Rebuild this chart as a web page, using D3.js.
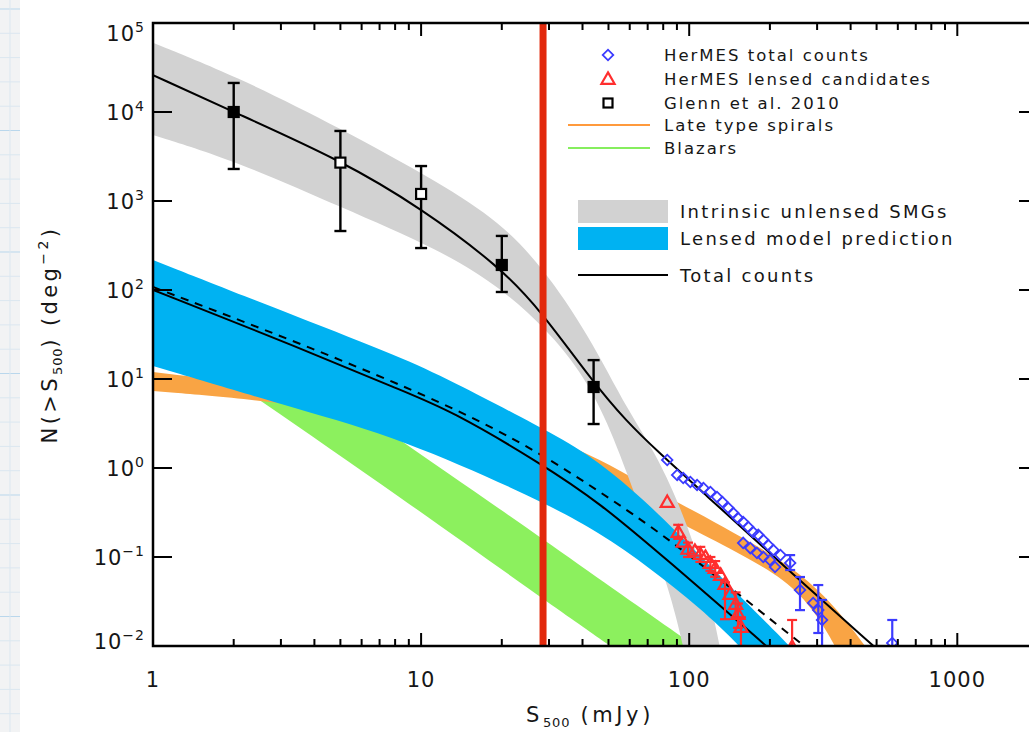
<!DOCTYPE html>
<html><head><meta charset="utf-8">
<script src="https://cdn.jsdelivr.net/npm/d3@7"></script>
<style>
body{margin:0;background:#fff}
svg{display:block}
text{font-family:"DejaVu Sans",sans-serif;fill:#161616}
</style>
</head><body>
<svg id="c" width="1029" height="732"></svg>
<script>
// ---------------- data ----------------
const xTicks = [1, 10, 100, 1000];
const xTickLabels = ["1", "10", "100", "1000"];
const yTickExps = [-2, -1, 0, 1, 2, 3, 4, 5];

// Total counts model (black solid line)
const totalCounts = [[1,26000],[2,10000],[5,2890],[10,834],[19.7,181],[27.8,59.6],[43.8,9.25],[57.7,3.46],[78,1.44],[110,0.566],[232,0.0733],[473,0.0108],[613,0.0054]];
// Intrinsic unlensed SMGs band (grey)
const unlensedUpper = [[1,60000],[2,26000],[5,6600],[11.8,1590],[19.7,581],[28.5,177],[41.6,33.7],[60.2,3.94],[76,1.40],[101,0.20],[120,0.033],[133,0.007]];
const unlensedLower = [[1,5520],[2,2890],[5,857],[11.8,281],[19.7,108],[29.5,35.6],[39.2,12.6],[49.4,3.46],[61.8,0.566],[74.7,0.12],[86.4,0.033],[97.5,0.007]];
// Lensed model prediction band (blue)
const lensedUpper = [[1,217],[3.54,48.4],[8.35,17.7],[12.8,9.75],[27.8,2.89],[41.6,1.48],[61.8,0.566],[87.1,0.212],[169,0.0274],[238,0.01],[283,0.0054]];
const lensedLower = [[1,14.0],[3.54,4.49],[8.35,2.17],[27.8,0.437],[46.5,0.186],[71.5,0.075],[110,0.0267],[155,0.01],[184,0.0054]];
// Lensed counts lines (solid and dashed black)
const lensedSolid = [[1,100],[3.54,22.3],[8.35,7.52],[12.8,4.49],[27.8,1.14],[46.5,0.404],[82.8,0.0925],[195,0.01],[240,0.0055]];
const lensedDashed = [[1,108],[3.54,25.3],[12.8,5.1],[27.8,1.48],[46.5,0.537],[82.8,0.168],[232,0.014],[271,0.01],[320,0.0058]];
// Late type spirals band (orange)
const spiralsUpper = [[1,12.0],[3.54,7.52],[12.8,4.26],[27.8,2.35],[41.6,1.48],[61.8,0.773],[82.8,0.472],[131,0.229],[232,0.0857],[336,0.0329],[454,0.01],[516,0.0057]];
const spiralsLower = [[1,7.33],[3.05,5.52],[8.35,3.46],[19.7,2.07],[41.6,1.0],[65.6,0.437],[87.1,0.261],[142,0.126],[232,0.0552],[295,0.0241],[351,0.01],[382,0.0057]];
// Blazars band (green)
const blazarsUpper = [[1,168],[8.35,2.07],[27.8,0.168],[101,0.0108],[131,0.0063]];
const blazarsLower = [[1,38.4],[2.44,6.12],[8.35,0.472],[27.8,0.0356],[49,0.0108],[60.2,0.007]];

// HerMES total counts (blue diamonds) and error bars [S, low, high]
const hermesTotal = [[82.8,1.23],[90.2,0.834],[95,0.773],[101,0.697],[107,0.644],[113,0.596],[120,0.537],[127,0.472],[133,0.415],[140,0.355],[146,0.312],[152,0.274],[159,0.247],[166,0.217],[173,0.191],[181,0.177],[189,0.155],[197,0.136],[206,0.12],[219,0.105],[238,0.0857],[259,0.0426],[290,0.0304],[303,0.0253],[313,0.0196],[572,0.0108],
  [159,0.144],[169,0.126],[179,0.111],[189,0.1],[200,0.0925],[209,0.0773]];
const hermesTotalErr = [[238,0.0714,0.105],[259,0.0253,0.0596],[303,0.014,0.0484],[313,0.0095,0.0329],[572,0.0095,0.0196]];
// HerMES lensed candidates (red triangles) and error bars
const hermesLensed = [[82.8,0.404],[91,0.186],[95,0.144],[99,0.12],[105,0.114],[110,0.105],[115,0.0975],[120,0.0833],[125,0.0733],[131,0.0612],[136,0.0484],[142,0.0374],[149,0.0289],[152,0.0223],[156,0.0159],[242,0.0095]];
const hermesLensedErr = [[91,0.16,0.23],[99,0.10,0.145],[110,0.088,0.13],[120,0.07,0.10],[125,0.06,0.09],[136,0.02,0.052],[149,0.021,0.04],[152,0.016,0.03],[156,0.01,0.021],[242,0.009,0.0196]];
// Glenn et al. 2010 [S, N, low, high]
const glenn = [[2,10000,2290,21200],[5,2700,460,6120],[10,1200,296,2470],[20,191,95,405],[44,8.13,3.12,16.3]];
const glennFilled = [true,false,false,true,true];
// vertical flux cut
const fluxCut = 28.5;

const legendSymbols = ["HerMES total counts","HerMES lensed candidates","Glenn et al. 2010","Late type spirals","Blazars"];
const legendBands = ["Intrinsic unlensed SMGs","Lensed model prediction","Total counts"];

// ---------------- drawing ----------------
const svg = d3.select("#c");
const L = 153, R = 1038, T = 23, B = 646;
const x = d3.scaleLog().domain([1, 2000]).range([L, R]);
const y = d3.scaleLog().domain([0.01, 1e5]).range([B, T]);

const C = {gray:"#d2d2d2", blue:"#00b2f2", orange:"#f9a444", green:"#8cf05e",
           dBlue:"#3b3bff", red:"#ff2e2e", cut:"#e2290c"};

svg.append("rect").attr("width",1029).attr("height",732).attr("fill","#fff");
// graph-paper strip on the left
const paper = svg.append("g");
paper.append("rect").attr("x",0).attr("y",0).attr("width",20).attr("height",732).attr("fill","#f2f3f4");
d3.range(0, 732, 24.3).forEach((yy,i)=>{
  paper.append("line").attr("x1",0).attr("x2",20).attr("y1",yy+9).attr("y2",yy+9)
    .attr("stroke", i%5===0 ? "#b9d7ec" : "#dbe7f0").attr("stroke-width",1);
});
paper.append("line").attr("x1",10).attr("x2",10).attr("y1",0).attr("y2",732).attr("stroke","#dbe7f0");

svg.append("clipPath").attr("id","clip").append("rect")
  .attr("x",L).attr("y",T).attr("width",R-L).attr("height",B-T);
const plot = svg.append("g").attr("clip-path","url(#clip)");

const line = d3.line().x(d=>x(d[0])).y(d=>y(d[1])).curve(d3.curveBasis);
function band(up, lo){
  const a = line(up), b = line(lo.slice().reverse());
  return a + "L" + b.slice(1) + "Z";
}
plot.append("path").attr("d", band(blazarsUpper, blazarsLower)).attr("fill", C.green);
plot.append("path").attr("d", band(spiralsUpper, spiralsLower)).attr("fill", C.orange);
plot.append("path").attr("d", band(unlensedUpper, unlensedLower)).attr("fill", C.gray);
plot.append("path").attr("d", band(lensedUpper, lensedLower)).attr("fill", C.blue);

plot.append("path").attr("d", line(lensedDashed)).attr("fill","none").attr("stroke","#000")
  .attr("stroke-width",2).attr("stroke-dasharray","8,7");
plot.append("path").attr("d", line(lensedSolid)).attr("fill","none").attr("stroke","#000").attr("stroke-width",2);
plot.append("path").attr("d", line(totalCounts)).attr("fill","none").attr("stroke","#000").attr("stroke-width",2);

// error bars helper
function errBars(g, data, color, cap, sw){
  data.forEach(d=>{
    const cx = x(d[0]);
    g.append("line").attr("x1",cx).attr("x2",cx).attr("y1",y(d[1])).attr("y2",y(d[2]))
      .attr("stroke",color).attr("stroke-width",sw);
    [d[1],d[2]].forEach(v=>g.append("line").attr("x1",cx-cap/2).attr("x2",cx+cap/2)
      .attr("y1",y(v)).attr("y2",y(v)).attr("stroke",color).attr("stroke-width",sw));
  });
}
// HerMES lensed (red)
errBars(plot, hermesLensedErr, C.red, 10, 2.2);
const tri = d3.symbol().type(d3.symbolTriangle).size(75);
plot.selectAll(".tri").data(hermesLensed).join("path").attr("d", tri)
  .attr("transform", d=>`translate(${x(d[0])},${y(d[1])})`)
  .attr("fill","none").attr("stroke",C.red).attr("stroke-width",2.2);
// HerMES total (blue)
errBars(plot, hermesTotalErr, C.dBlue, 10, 2.2);
const dia = d3.symbol().type(d3.symbolSquare).size(56);
plot.selectAll(".dia").data(hermesTotal).join("path").attr("d", dia)
  .attr("transform", d=>`translate(${x(d[0])},${y(d[1])}) rotate(45)`)
  .attr("fill","none").attr("stroke",C.dBlue).attr("stroke-width",1.8);
// Glenn et al.
errBars(plot, glenn.map(d=>[d[0],d[2],d[3]]), "#000", 12, 2.4);
glenn.forEach((d,i)=>{
  plot.append("rect").attr("x",x(d[0])-5).attr("y",y(d[1])-5).attr("width",10).attr("height",10)
    .attr("fill", glennFilled[i] ? "#000" : "#fff").attr("stroke","#000").attr("stroke-width",2.2);
});

// vertical cut
plot.append("line").attr("x1",x(fluxCut)).attr("x2",x(fluxCut)).attr("y1",T).attr("y2",B)
  .attr("stroke",C.cut).attr("stroke-width",7);

// frame
const ax = svg.append("g").attr("stroke","#000");
ax.append("rect").attr("x",L).attr("y",T).attr("width",R-L).attr("height",B-T)
  .attr("fill","none").attr("stroke-width",2.5);
const xMinor = [];
[1,10,100,1000].forEach(dec=>{ for(let k=2;k<=9;k++){ if(dec*k<2000) xMinor.push(dec*k);} });
xTicks.forEach(v=>{
  ax.append("line").attr("x1",x(v)).attr("x2",x(v)).attr("y1",B).attr("y2",B-13).attr("stroke-width",2);
  ax.append("line").attr("x1",x(v)).attr("x2",x(v)).attr("y1",T).attr("y2",T+13).attr("stroke-width",2);
});
xMinor.forEach(v=>{
  ax.append("line").attr("x1",x(v)).attr("x2",x(v)).attr("y1",B).attr("y2",B-7).attr("stroke-width",2);
  ax.append("line").attr("x1",x(v)).attr("x2",x(v)).attr("y1",T).attr("y2",T+7).attr("stroke-width",2);
});
yTickExps.forEach(e=>{
  const yy = y(Math.pow(10,e));
  ax.append("line").attr("x1",L).attr("x2",L+19).attr("y1",yy).attr("y2",yy).attr("stroke-width",2);
  ax.append("line").attr("x1",R).attr("x2",R-19).attr("y1",yy).attr("y2",yy).attr("stroke-width",2);
});

// tick labels
const txt = svg.append("g");
xTicks.forEach((v,i)=>{
  txt.append("text").attr("x",x(v)).attr("y",687).attr("text-anchor","middle")
    .attr("font-size",21).attr("letter-spacing",1).text(xTickLabels[i]);
});
yTickExps.forEach(e=>{
  let yy = y(Math.pow(10,e)) + 8;
  if(e===5) yy += 10;
  if(e===-2) yy -= 5;
  const t = txt.append("text").attr("x",145).attr("y",yy).attr("text-anchor","end").attr("font-size",21).attr("letter-spacing",1);
  t.append("tspan").text("10");
  t.append("tspan").attr("dy",-9).attr("font-size",14).text(e<0 ? "\u2212"+(-e) : String(e));
});

// axis titles
const xt = txt.append("text").attr("x",590).attr("y",722).attr("text-anchor","middle")
  .attr("font-size",21).attr("letter-spacing",3.6);
xt.append("tspan").text("S");
xt.append("tspan").attr("dy",5).attr("font-size",13).attr("letter-spacing",0.8).text("500");
xt.append("tspan").attr("dy",-5).text(" (mJy)");

const yt = txt.append("text").attr("transform",`translate(57,${(T+B)/2}) rotate(-90)`)
  .attr("text-anchor","middle").attr("font-size",21).attr("letter-spacing",3.4);
yt.append("tspan").text("N(>S");
yt.append("tspan").attr("dy",5).attr("font-size",13).attr("letter-spacing",0.8).text("500");
yt.append("tspan").attr("dy",-5).text(") (deg");
yt.append("tspan").attr("dy",-9).attr("font-size",14).text("\u22122");
yt.append("tspan").attr("dy",9).text(")");

// legend
const lg = svg.append("g");
const lgY = [55, 79, 103, 125, 148];
lg.append("path").attr("d", dia).attr("transform",`translate(608,${lgY[0]}) rotate(45)`)
  .attr("fill","none").attr("stroke",C.dBlue).attr("stroke-width",1.8);
lg.append("path").attr("d", tri).attr("transform",`translate(608,${lgY[1]+1})`)
  .attr("fill","none").attr("stroke",C.red).attr("stroke-width",2.2);
lg.append("rect").attr("x",603.5).attr("y",lgY[2]-4.5).attr("width",9).attr("height",9)
  .attr("fill","none").attr("stroke","#000").attr("stroke-width",2.2);
lg.append("line").attr("x1",568).attr("x2",650).attr("y1",lgY[3]).attr("y2",lgY[3]).attr("stroke","#ff9a3c").attr("stroke-width",2);
lg.append("line").attr("x1",568).attr("x2",650).attr("y1",lgY[4]).attr("y2",lgY[4]).attr("stroke","#86ee5e").attr("stroke-width",2);
legendSymbols.forEach((s,i)=>{
  lg.append("text").attr("x",664).attr("y",lgY[i]+6).attr("font-size",16.5).attr("letter-spacing",2.0).text(s);
});
const bY = [211, 238, 275];
lg.append("rect").attr("x",578).attr("y",200).attr("width",90).attr("height",23).attr("fill",C.gray);
lg.append("rect").attr("x",578).attr("y",227).attr("width",90).attr("height",23).attr("fill",C.blue);
lg.append("line").attr("x1",578).attr("x2",668).attr("y1",bY[2]).attr("y2",bY[2]).attr("stroke","#000").attr("stroke-width",2);
legendBands.forEach((s,i)=>{
  lg.append("text").attr("x",680).attr("y",bY[i]+7).attr("font-size",18).attr("letter-spacing",2.3).text(s);
});
</script>
</body></html>
